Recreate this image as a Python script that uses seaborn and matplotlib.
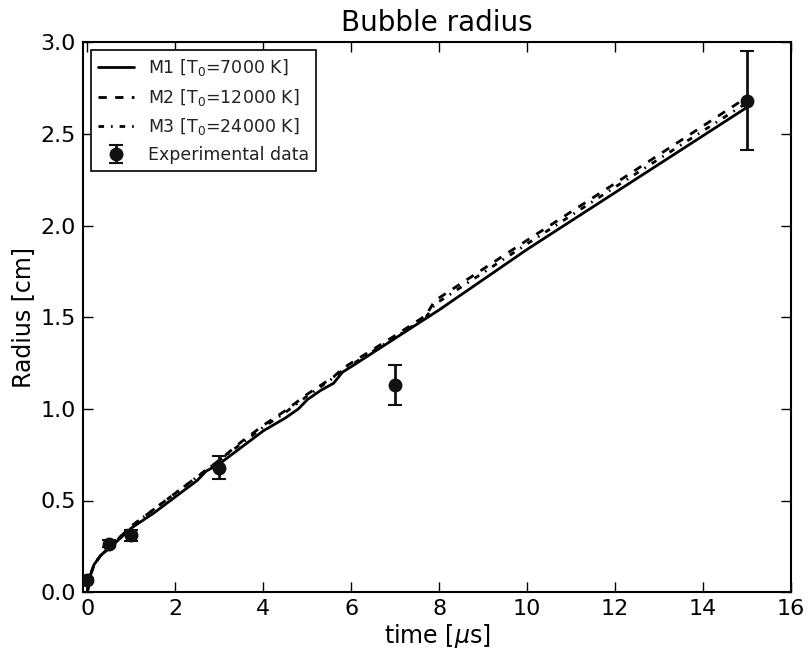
import numpy as np
import pandas as pd
import matplotlib
matplotlib.use("Agg")
import matplotlib.pyplot as plt
import seaborn as sns

# model curves
t_m1 = [0.0, 0.05, 0.15, 0.3, 0.5, 1.0, 1.5, 2.0, 2.5, 2.7, 3.0, 3.5, 4.0, 4.5, 4.8, 5.0, 5.3, 5.6, 5.8, 6.0, 7.0, 8.0, 10.0, 12.0, 15.0]
r_m1 = [0.0, 0.08, 0.15, 0.20, 0.24, 0.35, 0.43, 0.52, 0.61, 0.66, 0.70, 0.79, 0.88, 0.95, 1.00, 1.05, 1.10, 1.14, 1.20, 1.23, 1.385, 1.54, 1.87, 2.18, 2.645]

t_m2 = [0.0, 0.05, 0.15, 0.3, 0.5, 1.0, 1.5, 2.0, 2.5, 3.0, 3.5, 4.0, 4.5, 5.0, 5.6, 5.8, 6.0, 7.0, 7.7, 7.9, 10.0, 12.0, 15.0]
r_m2 = [0.0, 0.08, 0.15, 0.20, 0.245, 0.36, 0.45, 0.54, 0.63, 0.72, 0.82, 0.91, 0.99, 1.08, 1.175, 1.22, 1.25, 1.40, 1.51, 1.59, 1.92, 2.23, 2.70]

t_m3 = [0.0, 0.05, 0.15, 0.3, 0.5, 1.0, 1.5, 2.0, 2.5, 3.0, 3.5, 4.0, 4.5, 5.0, 5.6, 5.8, 6.0, 7.0, 7.7, 7.9, 10.0, 12.0, 15.0]
r_m3 = [0.0, 0.08, 0.15, 0.20, 0.245, 0.36, 0.45, 0.54, 0.63, 0.72, 0.81, 0.90, 0.98, 1.07, 1.17, 1.21, 1.24, 1.39, 1.50, 1.57, 1.90, 2.21, 2.67]

# experimental data
t_exp = [0.0, 0.5, 1.0, 3.0, 7.0, 15.0]
r_exp = [0.065, 0.265, 0.31, 0.68, 1.13, 2.68]
e_exp = [0.01, 0.02, 0.03, 0.065, 0.11, 0.27]

labels = ["M1 [T$_0$=7000 K]", "M2 [T$_0$=12000 K]", "M3 [T$_0$=24000 K]", "Experimental data"]

sns.set_style("ticks")
plt.rcParams['font.family'] = ['DejaVu Sans']
plt.rcParams['mathtext.fontset'] = 'dejavusans'
plt.rcParams['text.color'] = 'black'
plt.rcParams['axes.labelcolor'] = 'black'
plt.rcParams['xtick.color'] = 'black'
plt.rcParams['ytick.color'] = 'black'

fig = plt.figure(figsize=(8.1, 6.5), dpi=100)
ax = fig.add_axes([0.1025, 0.089, 0.874, 0.846])

df1 = pd.DataFrame({"t": t_m1, "r": r_m1})
df2 = pd.DataFrame({"t": t_m2, "r": r_m2})
df3 = pd.DataFrame({"t": t_m3, "r": r_m3})

sns.lineplot(data=df1, x="t", y="r", ax=ax, color="black", lw=2, label=labels[0], sort=False)
sns.lineplot(data=df2, x="t", y="r", ax=ax, color="black", lw=2, label=labels[1], sort=False)
sns.lineplot(data=df3, x="t", y="r", ax=ax, color="black", lw=2, label=labels[2], sort=False)
lines = ax.get_lines()
lines[1].set_dashes([3, 3])
lines[2].set_dashes([2, 2.5, 0.6, 2.5])

ax.errorbar(t_exp, r_exp, yerr=e_exp, fmt='o', color='#111111', ms=9,
            elinewidth=2, capsize=5, capthick=1.5, label=labels[3], zorder=5)

ax.set_xlim(-0.1, 16)
ax.set_ylim(0, 3.0)
ax.set_xticks(np.arange(0, 17, 2))
ax.set_yticks(np.arange(0, 3.01, 0.5))
ax.tick_params(direction='in', top=True, right=True, length=7, width=1, labelsize=16, pad=5)
for s in ax.spines.values():
    s.set_linewidth(1.5)
    s.set_color('black')

ax.set_xlabel("time [$\\mu$s]", fontsize=17, labelpad=2)
ax.set_ylabel("Radius [cm]", fontsize=17, labelpad=4)
ax.set_title("Bubble radius", fontsize=20, pad=8)

leg = ax.legend(loc='upper left', fontsize=12.5, frameon=True, fancybox=False,
                edgecolor='black', framealpha=1, borderaxespad=0.45, handlelength=2.1,
                labelspacing=0.5, borderpad=0.4)
leg.get_frame().set_linewidth(1.2)
for txt in leg.get_texts():
    txt.set_color('#222222')

fig.savefig("out.png", dpi=100)
